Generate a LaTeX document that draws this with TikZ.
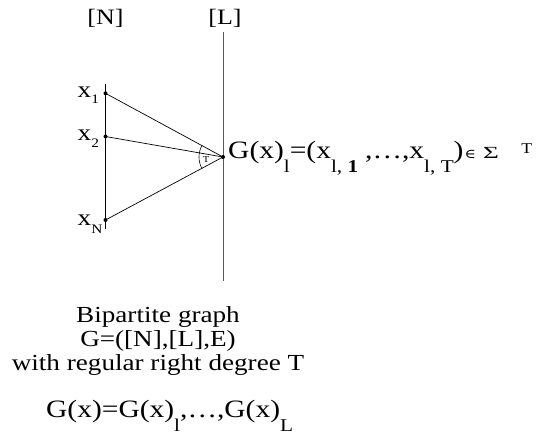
\documentclass[tikz,border=0pt]{standalone}
\usepackage{fontspec}
\usepackage{graphicx}
\setmainfont{Liberation Serif}
\newfontfamily\symfnt{DejaVu Serif}
\newcommand\lo[3]{\raisebox{-#2}{\fontsize{#1}{#1}\selectfont #3}}
\newcommand\hi[3]{\raisebox{#2}{\fontsize{#1}{#1}\selectfont #3}}
\newcommand\sx[1]{\scalebox{1.18}[1]{#1}}
\begin{document}
\begin{tikzpicture}[x=1pt,y=-1pt,
  vdot/.style={circle,fill=black,inner sep=0pt,minimum size=4pt},
  hdr/.style={inner sep=0pt,font=\fontsize{22pt}{22pt}\selectfont},
  lbl/.style={inner sep=0pt,font=\fontsize{23pt}{23pt}\selectfont},
  captxt/.style={inner sep=0pt,font=\fontsize{23pt}{23pt}\selectfont},
  bigtxt/.style={inner sep=0pt,font=\fontsize{25pt}{25pt}\selectfont},
  conn/.style={draw=black,line width=0.7pt}]
\useasboundingbox (0,0) rectangle (541,440);
% headers
\node[hdr,anchor=base] (hN) at (105.5,24) {\sx{[N]}};
\node[hdr,anchor=base] (hL) at (225,24) {\sx{[L]}};
% right vertical line
\coordinate (Ltop) at (223,32);
\coordinate (Lbot) at (223,281);
\draw[black!65,line width=0.9pt] (Ltop) -- (Lbot);
% left vertical line
\coordinate (Ntop) at (105.5,84);
\coordinate (Nbot) at (105.5,229);
\draw[conn] (Ntop) -- (Nbot);
% vertices
\node[vdot] (x1) at (105.5,93.3) {};
\node[vdot] (x2) at (105.5,136.5) {};
\node[vdot] (xN) at (105.5,220) {};
\node[vdot] (c) at (223,157) {};
\draw[conn] (x1.center) -- (c.center);
\draw[conn] (x2.center) -- (c.center);
\draw[conn] (xN.center) -- (c.center);
\draw[line width=0.6pt] (c.center) ++(151.5:24pt) arc[start angle=151.5,end angle=208.5,radius=24pt];
\node[inner sep=0pt,font=\fontsize{9pt}{9pt}\selectfont] (T) at (206,160) {\sx{T}};
% vertex labels
\node[lbl,anchor=base west] (lx1) at (77.5,97) {\sx{x\lo{13pt}{6pt}{1}}};
\node[lbl,anchor=base west] (lx2) at (77.5,140) {\sx{x\lo{13pt}{7pt}{2}}};
\node[lbl,anchor=base west] (lxN) at (77.5,225) {\sx{x\lo{13pt}{8pt}{N}}};
% main formula
\node[bigtxt,anchor=base west] (f) at (228,158.5) {\sx{G(x)\lo{18pt}{14pt}{l}=(x\lo{18pt}{14pt}{l, \textbf{1}}\hspace{6pt},…,x\lo{18pt}{14pt}{l, T})\hspace{1pt}{\symfnt\fontsize{13pt}{13pt}\selectfont ∈}\hspace{6pt}{\fontsize{17pt}{17pt}\selectfont\scalebox{1.35}[1]{Σ}}\hspace{19pt}\hi{15pt}{5pt}{T}}};
% caption
\node[captxt,anchor=base] (c1) at (158,322) {\sx{Bipartite graph}};
\node[captxt,anchor=base] (c2) at (158,346) {\sx{G=([N],[L],E)}};
\node[captxt,anchor=base] (c3) at (158,370) {\sx{with regular right degree T}};
\node[bigtxt,anchor=base west] (c4) at (46,417) {\sx{G(x)=G(x)\lo{18pt}{14pt}{l},…,G(x)\lo{18pt}{14pt}{L}}};
\end{tikzpicture}
\end{document}
